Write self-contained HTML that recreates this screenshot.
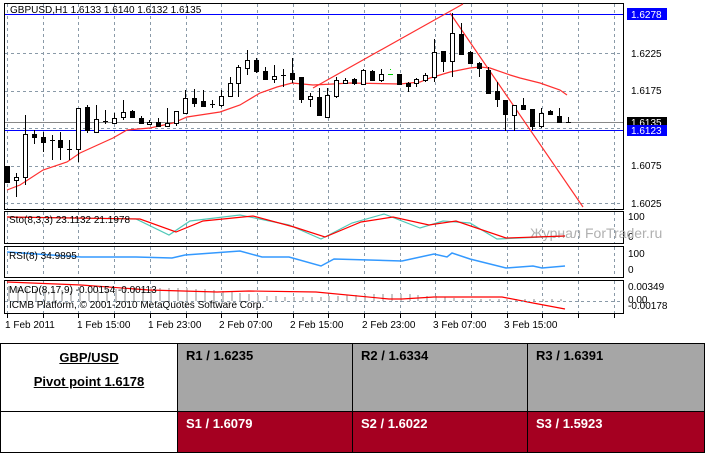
<!DOCTYPE html>
<html><head><meta charset="utf-8"><style>
body{margin:0;background:#fff;width:705px;height:457px;overflow:hidden;font-family:"Liberation Sans",sans-serif}
svg text{font-family:"Liberation Sans",sans-serif;font-size:10px}
table{position:absolute;left:0;top:343px;border-collapse:collapse;width:704px;table-layout:fixed}
td{border:1px solid #000;vertical-align:top;font-weight:bold;font-size:13px;padding:0;overflow:hidden}
</style></head><body>
<svg id="s" width="705" height="343" style="position:absolute;left:0;top:0" xmlns="http://www.w3.org/2000/svg">
<rect x="0" y="0" width="705" height="343" fill="#fff"/>
<g stroke="#8a9aa8" stroke-dasharray="3,3" stroke-width="1" id="grid"></g>
<g fill="none" stroke="#000">
<rect x="4.5" y="3.5" width="619" height="206"/>
<rect x="4.5" y="211.5" width="619" height="32"/>
<rect x="4.5" y="246.5" width="619" height="31"/>
<rect x="4.5" y="280.5" width="619" height="33"/>
</g>
<line x1="5" y1="14.5" x2="623" y2="14.5" stroke="#0000ff"/>
<line x1="5" y1="122.5" x2="623" y2="122.5" stroke="#888"/>
<line x1="5" y1="130.5" x2="623" y2="130.5" stroke="#0000ff"/>
<g id="hist" stroke="#c8c8c8" stroke-width="2"></g>
<polyline fill="none" stroke="#ff3030" stroke-width="1.2" points="7,190 20,185 43,170 67,162 80,153 113,138 127,130 150,128 173,123 187,117 220,112 240,105 260,93 277,87 292,83 313,85 333,84 350,83 400,84 420,82 430,78 450,72 470,68 480,67 490,68 510,75 520,78 540,83 560,90 567,95"/>
<line x1="313" y1="88" x2="463" y2="4" stroke="#ff3030" stroke-width="1.2"/>
<line x1="450" y1="13" x2="583" y2="207" stroke="#ff3030" stroke-width="1.2"/>
<g id="candles"></g>
<text x="10" y="13" fill="#000">GBPUSD,H1  1.6133 1.6140 1.6132 1.6135</text>
<g fill="#000">
<rect x="627" y="8" width="40" height="12" fill="#0000ff"/><text x="631" y="18" fill="#fff">1.6278</text>
<text x="631" y="57">1.6225</text><text x="631" y="94">1.6175</text>
<rect x="627" y="117" width="40" height="10" fill="#000"/><text x="631" y="126" fill="#fff">1.6135</text>
<rect x="627" y="125" width="40" height="11" fill="#0000ff"/><text x="631" y="134" fill="#fff">1.6123</text>
<text x="631" y="169">1.6075</text><text x="631" y="207">1.6025</text>
<text x="628" y="220">100</text><text x="628" y="240">0</text>
<text x="628" y="257">100</text><text x="628" y="273">0</text>
<text x="628" y="290">0.00349</text><text x="628" y="303">0.00</text><text x="628" y="309">-0.00178</text>
</g>
<text x="530" y="238" fill="#b0b0b0" style="font-size:14px">Журнал ForTrader.ru</text>
<polyline fill="none" stroke="#50c8b8" stroke-width="1.2" points="7,217 136,219 169,235 190,221 240,215 289,225 321,239 352,223 384,214 420,228 443,221 470,223 497,239 565,236"/>
<polyline fill="none" stroke="#ff0000" stroke-width="1.2" points="7,217 140,219 176,232 203,221 253,216 294,227 325,237 361,222 393,217 429,225 456,221 506,238 565,236"/>
<polyline fill="none" stroke="#3399ff" stroke-width="1.5" points="7,252 81,257 136,257 172,258 185,255 240,251 262,257 289,257 321,266 334,259 402,261 434,254 447,257 452,253 470,259 506,268 533,266 542,268 565,266"/>
<polyline fill="none" stroke="#ff0000" stroke-width="1.2" points="7,282 81,285 149,290 217,292 249,291 316,292 389,299 402,299 434,297 502,297 533,303 565,309"/>
<line x1="5" y1="301.5" x2="623" y2="301.5" stroke="#8a9aa8" stroke-dasharray="3,3"/>
<text x="9" y="223">Sto(8,3,3) 23.1132 21.1978</text>
<text x="9" y="259">RSI(8) 34.9895</text>
<text x="9" y="293">MACD(8,17,9) -0.00154 -0.00113</text>
<text x="9" y="308">ICMB Platform, © 2001-2010 MetaQuotes Software Corp.</text>
<g id="ticks" stroke="#000"></g>
<text x="5" y="328">1 Feb 2011</text><text x="77" y="328">1 Feb 15:00</text><text x="148" y="328">1 Feb 23:00</text><text x="219" y="328">2 Feb 07:00</text><text x="290" y="328">2 Feb 15:00</text><text x="362" y="328">2 Feb 23:00</text><text x="433" y="328">3 Feb 07:00</text><text x="504" y="328">3 Feb 15:00</text>
</svg>
<table>
<colgroup><col style="width:177px"><col style="width:175px"><col style="width:175px"><col style="width:177px"></colgroup>
<tr style="height:68px"><td style="background:#fff;text-align:center;padding-top:6px"><u>GBP/USD</u><br><div style="margin-top:9px"><u>Pivot point 1.6178</u></div></td>
<td style="background:#a6a6a6;padding:4px 0 0 8px">R1 / 1.6235</td>
<td style="background:#a6a6a6;padding:4px 0 0 8px">R2 / 1.6334</td>
<td style="background:#a6a6a6;padding:4px 0 0 8px">R3 / 1.6391</td></tr>
<tr style="height:41px"><td style="background:#fff"></td>
<td style="background:#a50021;color:#fff;padding:4px 0 0 8px">S1 / 1.6079</td>
<td style="background:#a50021;color:#fff;padding:4px 0 0 8px">S2 / 1.6022</td>
<td style="background:#a50021;color:#fff;padding:4px 0 0 8px">S3 / 1.5923</td></tr>
</table>
<script>
var NS="http://www.w3.org/2000/svg";
function el(p,t,a){var e=document.createElementNS(NS,t);for(var k in a)e.setAttribute(k,a[k]);p.appendChild(e);return e;}
var g=document.getElementById("grid");
[53.5,91.5,128.5,166.5,203.5].forEach(function(y){el(g,"line",{x1:5,y1:y,x2:623,y2:y});});
for(var x=7;x<620;x+=35.7){var xx=Math.round(x)+.5;[[4,209],[212,243],[247,277],[281,313]].forEach(function(r){el(g,"line",{x1:xx,y1:r[0],x2:xx,y2:r[1]});});}
var tk=document.getElementById("ticks");
for(var x=7;x<620;x+=35.7){var xx=Math.round(x)+.5;el(tk,"line",{x1:xx,y1:314,x2:xx,y2:318});}
var C=[[166,182,166,182,'b'],[173,197,177,180,'w'],[115,185,134,177,'w'],[130,144,134,137,'b'],[132,152,137,142,'b'],[135,160,140,140,'c'],[132,160,140,147,'b'],[140,160,149,149,'c'],[108,162,108,149,'w'],[105,133,107,130,'b'],[105,132,119,132,'w'],[110,124,121,121,'c'],[113,124,118,123,'w'],[100,120,112,117,'w'],[110,118,111,117,'b'],[116,124,118,123,'b'],[120,125,122,124,'w'],[118,127,122,126,'b'],[108,127,123,126,'w'],[111,126,111,123,'w'],[90,113,98,113,'w'],[89,107,98,103,'b'],[90,107,101,106,'b'],[100,108,104,104,'c'],[90,107,96,105,'w'],[77,97,83,96,'w'],[65,97,67,83,'w'],[50,75,60,68,'w'],[58,73,60,71,'b'],[67,80,71,79,'b'],[65,83,76,79,'w'],[69,87,75,75,'c'],[58,83,73,79,'b'],[77,103,77,99,'b'],[93,107,96,99,'w'],[88,115,97,115,'b'],[88,118,95,117,'w'],[77,98,80,96,'w'],[78,84,80,83,'w'],[78,85,79,83,'b'],[69,85,70,84,'w'],[70,81,71,80,'b'],[69,82,74,80,'w'],[69,76,74,74,'g'],[74,84,74,84,'b'],[82,92,83,86,'b'],[78,87,79,83,'w'],[73,82,75,80,'w'],[39,82,52,77,'w'],[51,72,51,61,'b'],[13,77,33,61,'w'],[23,55,34,54,'b'],[51,64,52,63,'b'],[62,77,63,68,'b'],[67,93,70,93,'b'],[82,107,91,99,'b'],[100,131,100,114,'b'],[105,131,105,115,'w'],[98,110,105,109,'b'],[109,130,109,126,'b'],[108,128,113,126,'w'],[110,115,111,114,'b'],[108,122,116,122,'b'],[117,123,122,122,'c']];
var cg=document.getElementById("candles");
C.forEach(function(c,i){var x=Math.round(7+i*8.9);
 if(c[4]=='g'){el(cg,"line",{x1:x+.5,y1:c[0],x2:x+.5,y2:c[1]-6,stroke:"#00cc00"});el(cg,"line",{x1:x-2,y1:c[2]+.5,x2:x+3,y2:c[2]+.5,stroke:"#00cc00"});return;}
 el(cg,"line",{x1:x+.5,y1:c[0],x2:x+.5,y2:c[1],stroke:"#000"});
 if(c[4]=='c'){el(cg,"line",{x1:x-2,y1:c[2]+.5,x2:x+3,y2:c[2]+.5,stroke:"#000"});return;}
 el(cg,"rect",{x:x-2+.5,y:c[2]+.5,width:4,height:Math.max(1,c[3]-c[2]),fill:c[4]=='b'?"#000":"#fff",stroke:"#000"});
});
var h=document.getElementById("hist");
for(var i=0;i<63;i++){var x=Math.round(9+i*8.9);var t=286+Math.round(i*0.25+3*Math.sin(i/4));el(h,"line",{x1:x,y1:Math.min(t,299),x2:x,y2:301});}
</script>
</body></html>
